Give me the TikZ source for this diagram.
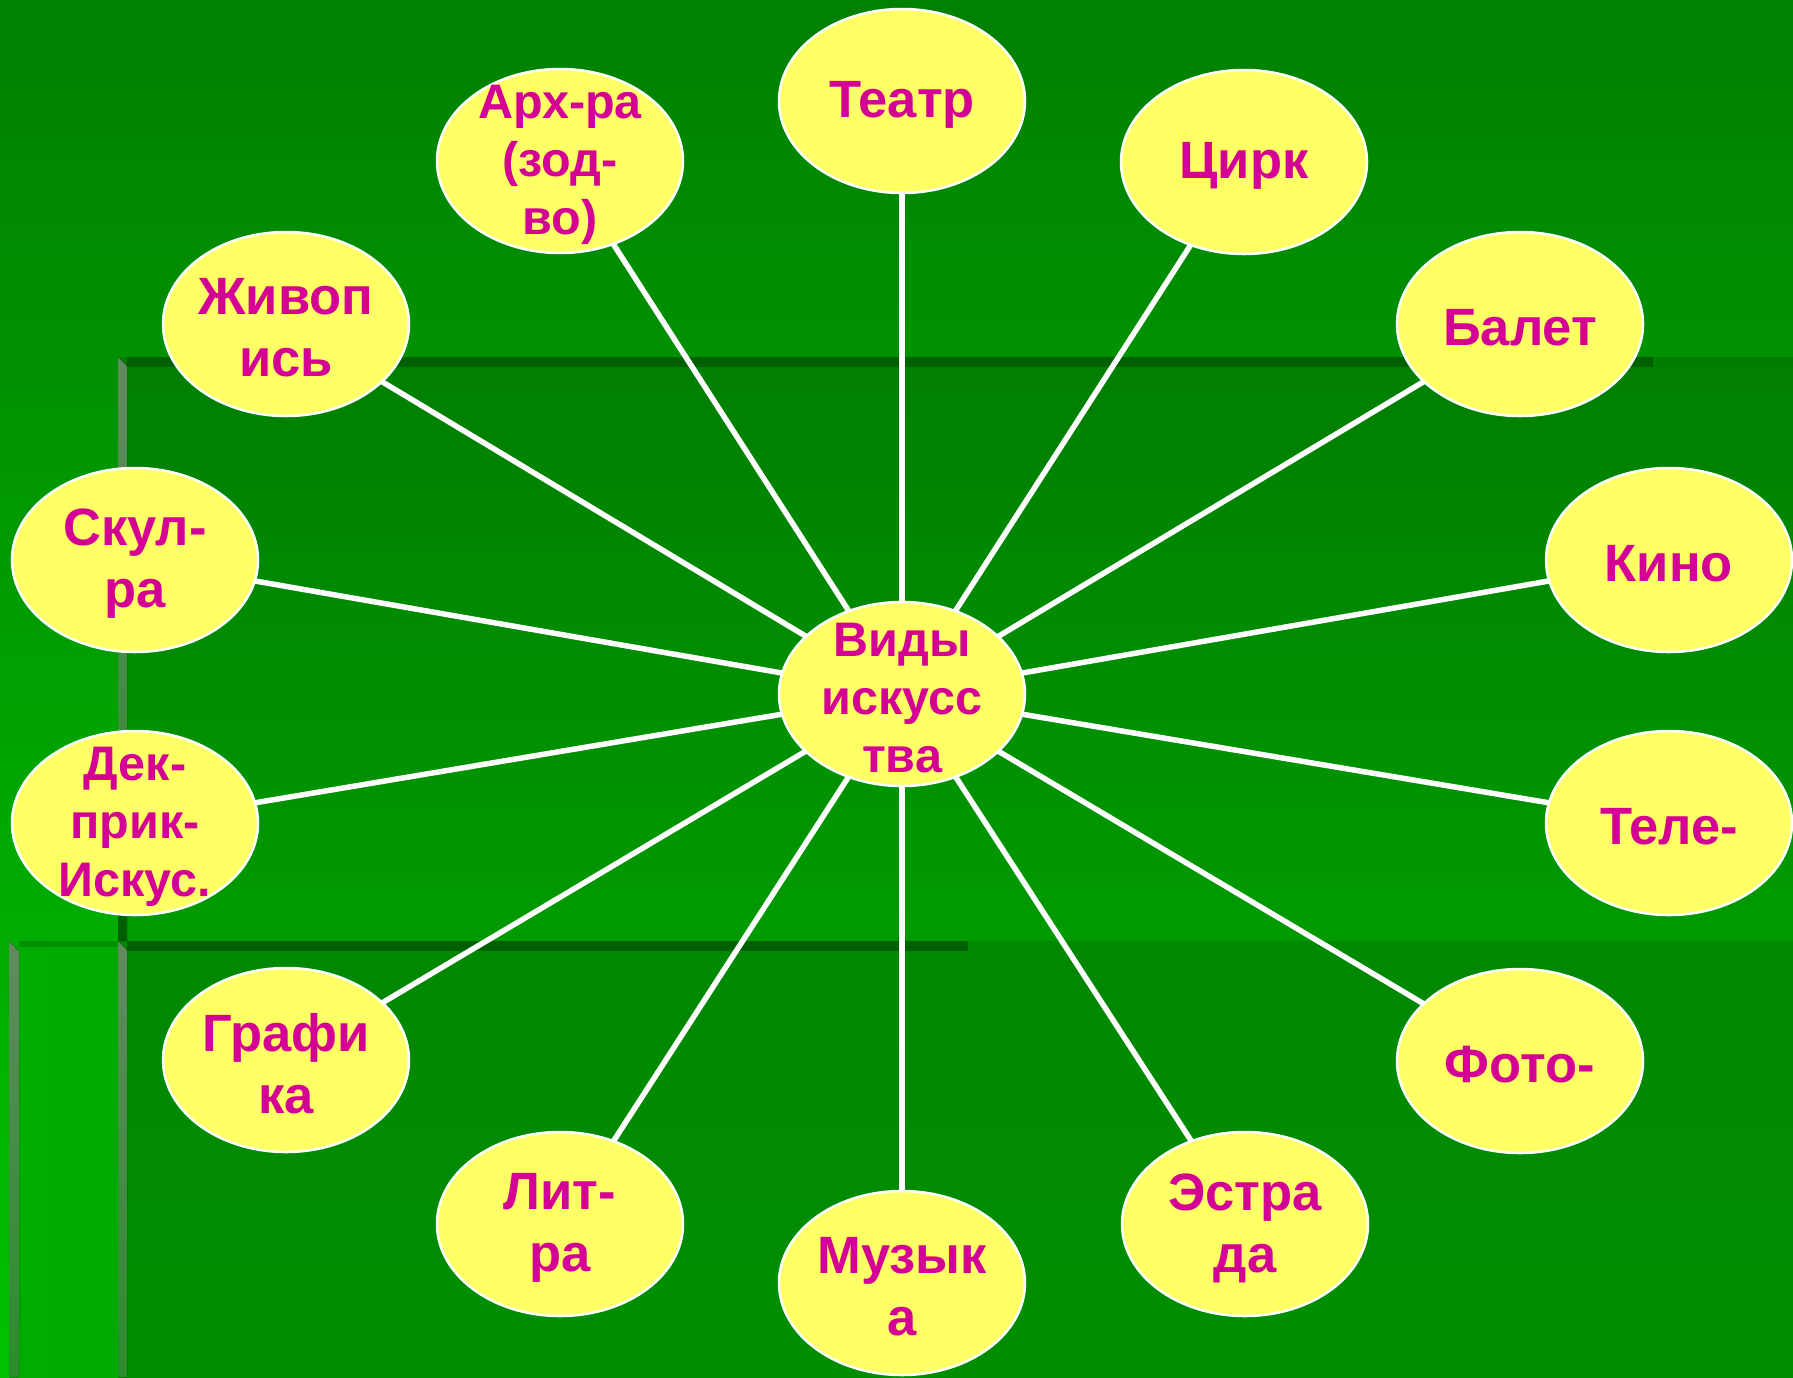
\documentclass[tikz,border=0pt]{standalone}
\usepackage{fontspec}
\setmainfont{Liberation Sans}
\usetikzlibrary{shapes.geometric}
\definecolor{bgtop}{RGB}{0,128,0}
\definecolor{bgbot}{RGB}{0,194,0}
\definecolor{recAtop}{RGB}{0,126,0}
\definecolor{recAbot}{RGB}{0,154,0}
\definecolor{recBleft}{RGB}{0,172,0}
\definecolor{recBright}{RGB}{0,150,0}
\definecolor{recCtop}{RGB}{0,136,0}
\definecolor{recCbot}{RGB}{0,142,0}
\definecolor{shadowgreen}{RGB}{0,96,0}
\definecolor{beveltop}{RGB}{98,138,98}
\definecolor{bevelbot}{RGB}{44,140,44}
\definecolor{bubblefill}{RGB}{255,255,102}
\definecolor{txtmag}{RGB}{212,0,150}
\pgfdeclarelayer{bglayer}
\pgfdeclarelayer{edgelayer}
\pgfsetlayers{bglayer,edgelayer,main}
\begin{document}
\begin{tikzpicture}[x=1pt,y=-1pt,
  bubble/.style={ellipse, fill=bubblefill, draw=white, line width=2.5pt,
    minimum width=246pt, minimum height=184pt, inner sep=0pt},
  lbl/.style={text=txtmag, font=\fontsize{52.5}{62}\selectfont\bfseries,
    align=center, inner sep=0pt, yshift=-4pt},
  lbls/.style={lbl, font=\fontsize{48.5}{58}\selectfont\bfseries},
  spoke/.style={draw=white, line width=5.5pt}]
\useasboundingbox (0,0) rectangle (1793,1377);

% nodes
\node[bubble] (c)     at (902,694)  {};
\node[bubble] (teatr) at (902,101)  {};
\node[bubble] (arch)  at (560,161)  {};
\node[bubble] (cirk)  at (1244,162) {};
\node[bubble] (zhiv)  at (286,324)  {};
\node[bubble] (balet) at (1520,324) {};
\node[bubble] (skul)  at (135,560)  {};
\node[bubble] (kino)  at (1669,560) {};
\node[bubble] (dek)   at (135,823)  {};
\node[bubble] (tele)  at (1669,823) {};
\node[bubble] (graf)  at (286,1060) {};
\node[bubble] (foto)  at (1520,1061){};
\node[bubble] (lit)   at (560,1224) {};
\node[bubble] (estr)  at (1245,1224){};
\node[bubble] (muz)   at (902,1283) {};

% labels
\node[lbls] (cT)     at (c)     {Виды\\искусс\\тва};
\node[lbl]  (teatrT) at (teatr) {Театр};
\node[lbls] (archT)  at (arch)  {Арх-ра\\(зод-\\во)};
\node[lbl]  (cirkT)  at (cirk)  {Цирк};
\node[lbl]  (zhivT)  at (zhiv)  {Живоп\\ись};
\node[lbl]  (baletT) at (balet) {Балет};
\node[lbl]  (skulT)  at (skul)  {Скул-\\ра};
\node[lbl]  (kinoT)  at (kino)  {Кино};
\node[lbls] (dekT)   at (dek)   {Дек-\\прик-\\Искус.};
\node[lbl]  (teleT)  at (tele)  {Теле-};
\node[lbl]  (grafT)  at (graf)  {Графи\\ка};
\node[lbl]  (fotoT)  at (foto)  {Фото-};
\node[lbl]  (litT)   at (lit)   {Лит-\\ра};
\node[lbl]  (estrT)  at (estr)  {Эстра\\да};
\node[lbl]  (muzT)   at (muz)   {Музык\\а};

% spokes
\begin{pgfonlayer}{edgelayer}
\foreach \n in {teatr,arch,cirk,zhiv,balet,skul,kino,dek,tele,graf,foto,lit,estr,muz}
  \draw[spoke] (c.center) -- (\n.center);
\end{pgfonlayer}

% background
\begin{pgfonlayer}{bglayer}
\fill[top color=bgtop, bottom color=bgbot] (0,0) rectangle (1793,1377);
\fill[left color=recBleft, right color=recBright] (9,941) rectangle (1793,1377);
\fill[top color=recAtop, bottom color=recAbot] (118,357) rectangle (1793,941);
\fill[top color=recCtop, bottom color=recCbot] (118,941) rectangle (1793,1377);
\fill[shadowgreen] (127,357) rectangle (1653,367);
\fill[shadowgreen] (127,941) rectangle (968,951);
\fill[shadowgreen, opacity=0.35] (19,941) rectangle (118,947);
\fill[top color=beveltop, bottom color=bevelbot] (118,357) -- (127,366) -- (127,941) -- (118,941) -- cycle;
\fill[shadowgreen] (118,900) rectangle (127,941);
\fill[top color=beveltop, bottom color=bevelbot] (118,941) -- (127,950) -- (127,1377) -- (118,1377) -- cycle;
\fill[top color=beveltop, bottom color=bevelbot] (9,941) -- (19,951) -- (19,1377) -- (9,1377) -- cycle;
\end{pgfonlayer}
\end{tikzpicture}
\end{document}
